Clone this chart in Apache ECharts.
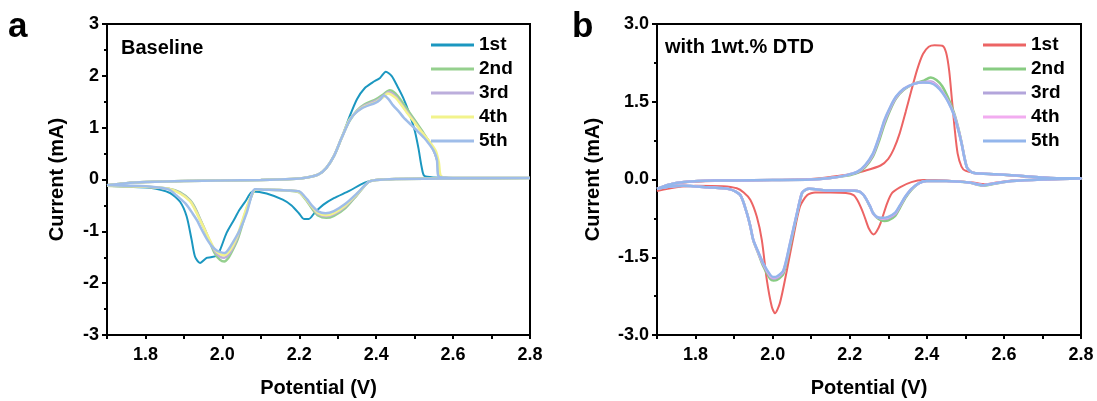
<!DOCTYPE html>
<html>
<head>
<meta charset="utf-8">
<script src="https://cdn.jsdelivr.net/npm/echarts@6/dist/echarts.min.js"></script>
<style>html,body{margin:0;padding:0;background:#fff}#c{width:1097px;height:401px}</style>
</head>
<body>
<div id="c"></div>
<script>
// ---------- data (Potential V, Current mA) ----------
const cycleNames = ['1st', '2nd', '3rd', '4th', '5th'];
const xMajorTicks = [1.8, 2.0, 2.2, 2.4, 2.6, 2.8];

// Panel a: Baseline
const a1st = [[1.70,-0.11],[1.75,-0.07],[1.80,-0.05],[1.90,-0.03],[2.00,-0.02],[2.10,-0.01],[2.18,0.01],[2.22,0.04],[2.25,0.10],[2.27,0.22],[2.29,0.45],[2.31,0.80],[2.33,1.20],[2.35,1.55],[2.37,1.76],[2.39,1.87],[2.41,1.96],[2.425,2.08],[2.44,2.00],[2.455,1.80],[2.47,1.58],[2.485,1.30],[2.50,0.95],[2.51,0.60],[2.518,0.25],[2.525,0.07],[2.55,0.04],[2.65,0.03],[2.80,0.03],
  [2.80,0.02],[2.60,0.02],[2.45,0.01],[2.40,-0.01],[2.37,-0.06],[2.33,-0.22],[2.29,-0.36],[2.262,-0.49],[2.24,-0.64],[2.225,-0.76],[2.212,-0.76],[2.20,-0.66],[2.18,-0.50],[2.157,-0.39],[2.115,-0.27],[2.079,-0.23],[2.06,-0.42],[2.045,-0.58],[2.03,-0.78],[2.011,-1.03],[1.994,-1.36],[1.985,-1.47],[1.97,-1.50],[1.959,-1.51],[1.942,-1.61],[1.929,-1.49],[1.92,-1.16],[1.907,-0.71],[1.89,-0.43],[1.864,-0.26],[1.812,-0.16],[1.75,-0.14],[1.70,-0.12]];
const a2nd = [[1.70,-0.11],[1.75,-0.07],[1.80,-0.05],[1.90,-0.03],[2.00,-0.02],[2.10,-0.01],[2.18,0.01],[2.22,0.04],[2.25,0.10],[2.27,0.22],[2.29,0.45],[2.31,0.80],[2.33,1.12],[2.35,1.33],[2.37,1.45],[2.40,1.55],[2.42,1.65],[2.435,1.72],[2.45,1.66],[2.465,1.52],[2.48,1.36],[2.50,1.15],[2.52,0.93],[2.54,0.70],[2.553,0.50],[2.561,0.30],[2.567,0.06],[2.60,0.03],[2.80,0.03],
  [2.80,0.02],[2.60,0.02],[2.45,0.01],[2.40,-0.01],[2.38,-0.05],[2.35,-0.30],[2.32,-0.55],[2.29,-0.70],[2.27,-0.74],[2.25,-0.70],[2.235,-0.58],[2.22,-0.42],[2.20,-0.25],[2.17,-0.21],[2.12,-0.20],[2.085,-0.20],[2.079,-0.26],[2.065,-0.55],[2.053,-0.84],[2.04,-1.15],[2.027,-1.36],[2.015,-1.52],[2.005,-1.58],[1.994,-1.55],[1.98,-1.42],[1.968,-1.22],[1.955,-0.98],[1.942,-0.76],[1.93,-0.56],[1.916,-0.40],[1.89,-0.25],[1.86,-0.18],[1.80,-0.14],[1.75,-0.13],[1.70,-0.12]];
const a3rd = [[1.70,-0.11],[1.75,-0.07],[1.80,-0.05],[1.90,-0.03],[2.00,-0.02],[2.10,-0.01],[2.18,0.01],[2.22,0.04],[2.25,0.10],[2.27,0.22],[2.29,0.45],[2.31,0.80],[2.33,1.14],[2.35,1.32],[2.37,1.43],[2.40,1.52],[2.42,1.62],[2.432,1.69],[2.45,1.61],[2.465,1.46],[2.48,1.31],[2.50,1.11],[2.52,0.90],[2.54,0.70],[2.553,0.50],[2.561,0.30],[2.566,0.06],[2.60,0.03],[2.80,0.03],
  [2.80,0.02],[2.60,0.02],[2.45,0.01],[2.40,-0.01],[2.38,-0.05],[2.35,-0.29],[2.32,-0.52],[2.29,-0.67],[2.27,-0.71],[2.25,-0.67],[2.235,-0.55],[2.22,-0.40],[2.20,-0.24],[2.17,-0.21],[2.12,-0.20],[2.085,-0.20],[2.079,-0.25],[2.065,-0.52],[2.053,-0.80],[2.04,-1.10],[2.027,-1.32],[2.015,-1.46],[2.005,-1.51],[1.994,-1.49],[1.98,-1.38],[1.968,-1.20],[1.955,-0.98],[1.942,-0.77],[1.93,-0.58],[1.916,-0.41],[1.89,-0.26],[1.86,-0.18],[1.80,-0.14],[1.75,-0.13],[1.70,-0.12]];
const a4th = [[1.70,-0.11],[1.75,-0.07],[1.80,-0.05],[1.90,-0.03],[2.00,-0.02],[2.10,-0.01],[2.18,0.01],[2.22,0.04],[2.25,0.10],[2.27,0.22],[2.29,0.45],[2.31,0.80],[2.33,1.15],[2.35,1.31],[2.37,1.41],[2.40,1.50],[2.42,1.60],[2.43,1.66],[2.45,1.58],[2.465,1.44],[2.48,1.29],[2.50,1.10],[2.52,0.90],[2.54,0.72],[2.555,0.55],[2.563,0.33],[2.569,0.06],[2.60,0.03],[2.80,0.03],
  [2.80,0.02],[2.60,0.02],[2.45,0.01],[2.40,-0.01],[2.38,-0.05],[2.35,-0.28],[2.32,-0.50],[2.29,-0.65],[2.27,-0.69],[2.25,-0.65],[2.235,-0.54],[2.22,-0.40],[2.20,-0.24],[2.17,-0.21],[2.12,-0.20],[2.085,-0.20],[2.079,-0.25],[2.065,-0.50],[2.053,-0.77],[2.04,-1.06],[2.027,-1.28],[2.015,-1.41],[2.005,-1.46],[1.994,-1.44],[1.98,-1.35],[1.968,-1.18],[1.955,-0.98],[1.942,-0.78],[1.93,-0.60],[1.916,-0.42],[1.89,-0.27],[1.86,-0.18],[1.80,-0.14],[1.75,-0.13],[1.70,-0.12]];
const a5th = [[1.70,-0.11],[1.75,-0.07],[1.80,-0.05],[1.90,-0.03],[2.00,-0.02],[2.10,-0.01],[2.18,0.01],[2.22,0.04],[2.25,0.10],[2.27,0.22],[2.29,0.45],[2.31,0.80],[2.334,1.18],[2.362,1.37],[2.398,1.48],[2.41,1.54],[2.42,1.62],[2.432,1.55],[2.444,1.43],[2.46,1.30],[2.471,1.20],[2.49,1.06],[2.508,0.93],[2.525,0.80],[2.536,0.70],[2.55,0.55],[2.558,0.38],[2.562,0.06],[2.60,0.03],[2.80,0.03],
  [2.80,0.02],[2.60,0.02],[2.45,0.01],[2.40,-0.01],[2.38,-0.05],[2.35,-0.27],[2.32,-0.47],[2.29,-0.61],[2.268,-0.65],[2.25,-0.62],[2.235,-0.52],[2.22,-0.38],[2.20,-0.23],[2.17,-0.21],[2.12,-0.20],[2.085,-0.19],[2.079,-0.23],[2.063,-0.65],[2.045,-0.98],[2.027,-1.22],[2.015,-1.36],[2.006,-1.42],[1.995,-1.40],[1.985,-1.37],[1.972,-1.28],[1.959,-1.14],[1.945,-0.95],[1.935,-0.80],[1.923,-0.66],[1.905,-0.47],[1.881,-0.31],[1.86,-0.19],[1.80,-0.13],[1.75,-0.12],[1.70,-0.11]];

// Panel b: with 1wt.% DTD
const b1st = [[1.70,-0.22],[1.73,-0.12],[1.77,-0.06],[1.85,-0.03],[2.00,-0.01],[2.10,0.01],[2.15,0.05],[2.20,0.10],[2.24,0.17],[2.28,0.27],[2.30,0.40],[2.315,0.60],[2.33,0.90],[2.345,1.30],[2.36,1.72],[2.375,2.12],[2.39,2.42],[2.405,2.56],[2.42,2.59],[2.44,2.58],[2.45,2.45],[2.458,2.10],[2.465,1.55],[2.472,1.00],[2.48,0.50],[2.49,0.25],[2.50,0.17],[2.53,0.12],[2.57,0.10],[2.65,0.06],[2.72,0.03],[2.80,0.02],
  [2.80,0.01],[2.70,0.00],[2.62,-0.02],[2.58,-0.06],[2.55,-0.09],[2.52,-0.06],[2.47,-0.03],[2.42,-0.01],[2.39,-0.01],[2.36,-0.05],[2.33,-0.15],[2.31,-0.26],[2.297,-0.46],[2.28,-0.84],[2.27,-1.00],[2.262,-1.06],[2.25,-0.95],[2.24,-0.75],[2.232,-0.59],[2.22,-0.40],[2.21,-0.30],[2.19,-0.26],[2.15,-0.25],[2.11,-0.25],[2.09,-0.30],[2.071,-0.52],[2.054,-1.10],[2.037,-1.75],[2.019,-2.38],[2.006,-2.58],[1.998,-2.46],[1.985,-1.94],[1.972,-1.17],[1.959,-0.72],[1.942,-0.39],[1.925,-0.25],[1.907,-0.17],[1.87,-0.13],[1.80,-0.12],[1.75,-0.15],[1.70,-0.22]];
const b2nd = [[1.70,-0.18],[1.73,-0.10],[1.77,-0.05],[1.85,-0.02],[2.00,-0.01],[2.10,0.00],[2.15,0.03],[2.19,0.07],[2.22,0.13],[2.24,0.24],[2.26,0.44],[2.275,0.72],[2.29,1.06],[2.305,1.34],[2.32,1.56],[2.34,1.73],[2.365,1.84],[2.39,1.90],[2.41,1.97],[2.425,1.92],[2.44,1.80],[2.455,1.58],[2.47,1.30],[2.48,1.04],[2.49,0.72],[2.498,0.42],[2.505,0.22],[2.52,0.13],[2.58,0.10],[2.64,0.07],[2.72,0.03],[2.80,0.02],
  [2.80,0.01],[2.70,0.00],[2.62,-0.03],[2.57,-0.09],[2.545,-0.12],[2.51,-0.06],[2.45,-0.03],[2.40,-0.03],[2.38,-0.07],[2.36,-0.20],[2.345,-0.35],[2.33,-0.55],[2.318,-0.70],[2.30,-0.79],[2.29,-0.80],[2.275,-0.76],[2.262,-0.66],[2.253,-0.53],[2.236,-0.30],[2.22,-0.22],[2.14,-0.21],[2.095,-0.18],[2.085,-0.20],[2.076,-0.27],[2.063,-0.68],[2.045,-1.30],[2.028,-1.82],[2.011,-1.94],[2.002,-1.95],[1.994,-1.92],[1.976,-1.68],[1.963,-1.43],[1.95,-1.18],[1.942,-0.90],[1.933,-0.64],[1.916,-0.30],[1.89,-0.19],[1.83,-0.15],[1.768,-0.12],[1.73,-0.14],[1.70,-0.18]];
const b3rd = [[1.70,-0.18],[1.73,-0.10],[1.77,-0.05],[1.85,-0.02],[2.00,-0.01],[2.10,0.00],[2.15,0.03],[2.19,0.08],[2.22,0.14],[2.24,0.26],[2.26,0.47],[2.275,0.77],[2.29,1.11],[2.305,1.37],[2.32,1.58],[2.34,1.74],[2.365,1.84],[2.39,1.88],[2.41,1.89],[2.425,1.83],[2.44,1.70],[2.455,1.52],[2.47,1.27],[2.48,1.02],[2.49,0.71],[2.498,0.41],[2.505,0.22],[2.52,0.13],[2.58,0.10],[2.64,0.07],[2.72,0.03],[2.80,0.02],
  [2.80,0.01],[2.70,0.00],[2.62,-0.03],[2.57,-0.08],[2.545,-0.11],[2.51,-0.06],[2.45,-0.03],[2.40,-0.03],[2.38,-0.07],[2.36,-0.19],[2.345,-0.33],[2.33,-0.52],[2.318,-0.67],[2.30,-0.75],[2.288,-0.76],[2.272,-0.73],[2.26,-0.65],[2.253,-0.52],[2.236,-0.30],[2.22,-0.22],[2.14,-0.21],[2.095,-0.18],[2.085,-0.20],[2.076,-0.26],[2.063,-0.66],[2.045,-1.26],[2.028,-1.78],[2.011,-1.90],[2.002,-1.91],[1.994,-1.88],[1.976,-1.65],[1.963,-1.42],[1.95,-1.17],[1.942,-0.90],[1.933,-0.65],[1.916,-0.30],[1.89,-0.19],[1.83,-0.15],[1.768,-0.12],[1.73,-0.14],[1.70,-0.18]];
const b4th = [[1.70,-0.18],[1.73,-0.10],[1.77,-0.05],[1.85,-0.02],[2.00,-0.01],[2.10,0.00],[2.15,0.03],[2.19,0.08],[2.22,0.15],[2.24,0.27],[2.26,0.49],[2.275,0.79],[2.29,1.13],[2.305,1.39],[2.32,1.59],[2.34,1.75],[2.365,1.84],[2.39,1.87],[2.41,1.87],[2.425,1.81],[2.44,1.69],[2.455,1.51],[2.47,1.26],[2.48,1.01],[2.49,0.70],[2.498,0.40],[2.505,0.22],[2.52,0.13],[2.58,0.10],[2.64,0.07],[2.72,0.03],[2.80,0.02],
  [2.80,0.01],[2.70,0.00],[2.62,-0.03],[2.57,-0.08],[2.545,-0.11],[2.51,-0.06],[2.45,-0.03],[2.40,-0.03],[2.38,-0.07],[2.36,-0.18],[2.345,-0.32],[2.33,-0.51],[2.318,-0.65],[2.30,-0.73],[2.286,-0.75],[2.27,-0.72],[2.26,-0.64],[2.253,-0.52],[2.236,-0.30],[2.22,-0.22],[2.14,-0.21],[2.095,-0.18],[2.085,-0.20],[2.076,-0.26],[2.063,-0.65],[2.045,-1.24],[2.028,-1.76],[2.011,-1.88],[2.002,-1.89],[1.994,-1.86],[1.976,-1.63],[1.963,-1.41],[1.95,-1.17],[1.942,-0.90],[1.933,-0.65],[1.916,-0.30],[1.89,-0.19],[1.83,-0.15],[1.768,-0.12],[1.73,-0.14],[1.70,-0.18]];
const b5th = [[1.70,-0.18],[1.73,-0.10],[1.77,-0.05],[1.85,-0.02],[2.00,-0.01],[2.10,0.00],[2.15,0.03],[2.19,0.08],[2.22,0.15],[2.24,0.28],[2.26,0.50],[2.275,0.80],[2.29,1.15],[2.305,1.40],[2.32,1.60],[2.34,1.75],[2.365,1.84],[2.39,1.87],[2.41,1.86],[2.425,1.80],[2.44,1.68],[2.455,1.50],[2.47,1.25],[2.48,1.00],[2.49,0.70],[2.498,0.40],[2.505,0.22],[2.52,0.13],[2.58,0.10],[2.64,0.07],[2.72,0.03],[2.80,0.02],
  [2.80,0.01],[2.70,0.00],[2.62,-0.03],[2.57,-0.08],[2.545,-0.11],[2.51,-0.06],[2.45,-0.03],[2.40,-0.03],[2.38,-0.07],[2.36,-0.18],[2.345,-0.32],[2.33,-0.50],[2.318,-0.64],[2.30,-0.72],[2.285,-0.74],[2.27,-0.72],[2.26,-0.64],[2.253,-0.52],[2.236,-0.30],[2.22,-0.22],[2.14,-0.21],[2.095,-0.18],[2.085,-0.20],[2.076,-0.26],[2.063,-0.65],[2.045,-1.23],[2.028,-1.75],[2.011,-1.87],[2.002,-1.88],[1.994,-1.84],[1.976,-1.62],[1.963,-1.40],[1.95,-1.17],[1.942,-0.90],[1.933,-0.65],[1.916,-0.30],[1.89,-0.19],[1.83,-0.15],[1.768,-0.12],[1.73,-0.14],[1.70,-0.18]];

const colorsA = ['#1b97c0', '#95d08e', '#bcaedc', '#f2f38c', '#9fbde9'];
const colorsB = ['#ec6464', '#88cc82', '#b3a5db', '#f2acf0', '#93b6ec'];
const dataA = [a1st, a2nd, a3rd, a4th, a5th];
const dataB = [b1st, b2nd, b3rd, b4th, b5th];

// ---------- chart ----------
const FONT = 'Liberation Sans';
const chart = echarts.init(document.getElementById('c'));
const black2 = {color: '#000', width: 2};

function xAxis(gi) {
  return {type: 'value', gridIndex: gi, min: 1.7, max: 2.8, interval: 0.1, position: 'bottom',
    name: 'Potential (V)', nameLocation: 'middle', nameGap: 43,
    nameTextStyle: {fontFamily: FONT, fontWeight: 'bold', fontSize: 20, color: '#000'},
    axisLine: {show: true, onZero: false, lineStyle: black2},
    axisTick: {show: true, length: 4, lineStyle: black2},
    axisLabel: {show: true, customValues: xMajorTicks, margin: 11, fontFamily: FONT, fontWeight: 'bold', fontSize: 18, color: '#000',
      formatter: v => v.toFixed(1)},
    splitLine: {show: false}};
}
function yAxis(gi, interval, digits, gap) {
  return {type: 'value', gridIndex: gi, min: -3, max: 3, interval: interval,
    name: 'Current (mA)', nameLocation: 'middle', nameGap: gap,
    nameTextStyle: {fontFamily: FONT, fontWeight: 'bold', fontSize: 20, color: '#000'},
    axisLine: {show: true, onZero: false, lineStyle: black2},
    axisTick: {show: true, length: 5, lineStyle: black2},
    minorTick: {show: true, splitNumber: 2, length: 3, lineStyle: black2},
    axisLabel: {margin: 8, fontFamily: FONT, fontWeight: 'bold', fontSize: 18, color: '#000',
      formatter: v => v.toFixed(digits)},
    splitLine: {show: false}};
}

// plot frame: a mark area spanning each panel's full axis range
function frame() {
  return {silent: true, label: {show: false},
    itemStyle: {color: 'rgba(0,0,0,0)', borderColor: '#000', borderWidth: 2},
    data: [[{coord: [1.7, -3]}, {coord: [2.8, 3]}]]};
}

const series = [];
dataA.forEach((d, i) => series.push({
  name: 'a-' + cycleNames[i], type: 'line', xAxisIndex: 0, yAxisIndex: 0, data: d,
  showSymbol: false, smooth: 0.25, clip: false, lineStyle: {color: colorsA[i], width: i === 0 ? 2 : 2.5},
  itemStyle: {color: colorsA[i]}, markArea: i === 0 ? frame() : undefined}));
dataB.forEach((d, i) => series.push({
  name: 'b-' + cycleNames[i], type: 'line', xAxisIndex: 1, yAxisIndex: 1, data: d,
  showSymbol: false, smooth: 0.25, clip: false, lineStyle: {color: colorsB[i], width: i === 0 ? 2 : 2.5},
  itemStyle: {color: colorsB[i]}, markArea: i === 0 ? frame() : undefined}));

function legend(prefix, left) {
  return {orient: 'vertical', left: left, top: 35, padding: 0, icon: 'rect', itemWidth: 43, itemHeight: 3, itemGap: 4,
    data: cycleNames.map(n => prefix + n), formatter: n => n.slice(2),
    textStyle: {fontFamily: FONT, fontWeight: 'bold', fontSize: 19, color: '#000', lineHeight: 20},
    selectedMode: false};
}

chart.setOption({
  animation: false,
  grid: [
    {left: 107, top: 24, width: 423, height: 311, outerBoundsMode: 'none', show: true, borderColor: '#000', borderWidth: 2},
    {left: 657, top: 24, width: 424, height: 311, outerBoundsMode: 'none', show: true, borderColor: '#000', borderWidth: 2}
  ],
  xAxis: [xAxis(0), xAxis(1)],
  yAxis: [yAxis(0, 1, 0, 40), yAxis(1, 1.5, 1, 54)],
  legend: [legend('a-', 431), legend('b-', 983)],
  series: series,
  graphic: [
    {type: 'text', left: 8, top: 10, style: {text: 'a', font: 'bold 35px "Liberation Sans"', fill: '#000'}},
    {type: 'text', left: 572, top: 10, style: {text: 'b', font: 'bold 35px "Liberation Sans"', fill: '#000'}},
    {type: 'text', left: 121, top: 38, style: {text: 'Baseline', font: 'bold 20px "Liberation Sans"', fill: '#000'}},
    {type: 'text', left: 665, top: 37, style: {text: 'with 1wt.% DTD', font: 'bold 20px "Liberation Sans"', fill: '#000'}}
  ]
});
</script>
</body>
</html>
